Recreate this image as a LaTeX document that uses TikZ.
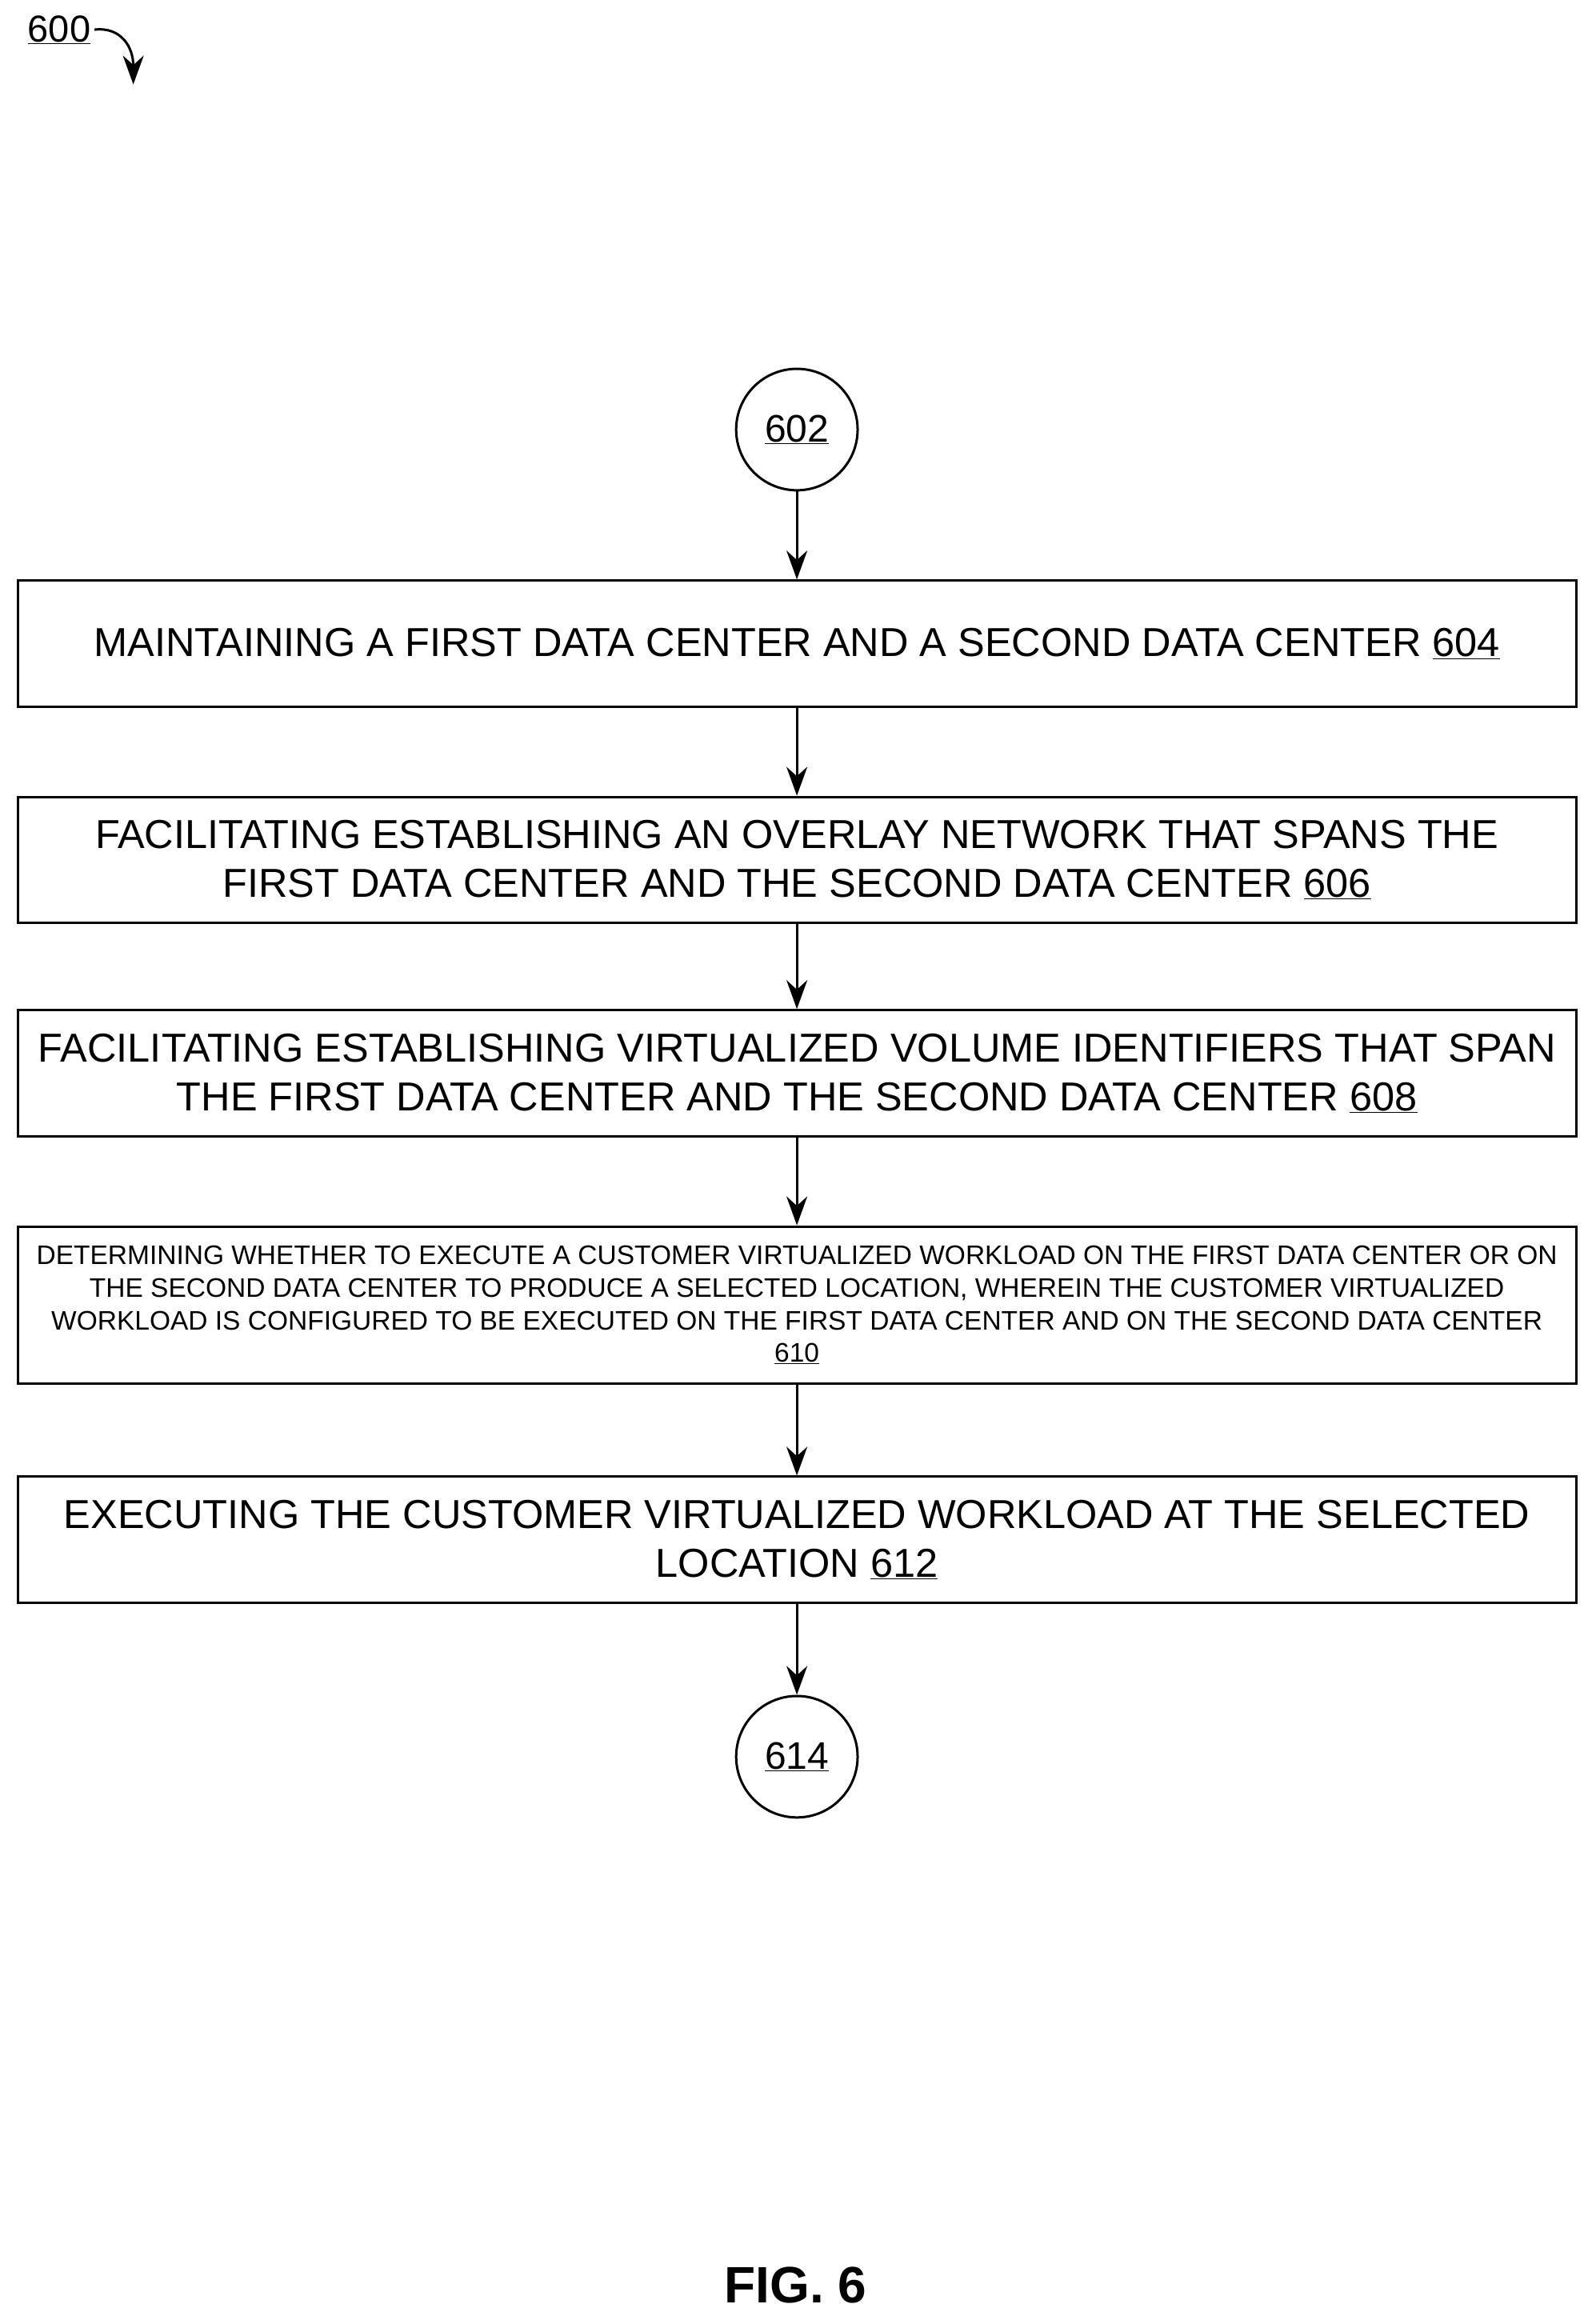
\documentclass[tikz,border=0pt]{standalone}
\usepackage{fontspec}
\setmainfont{Liberation Sans}
\usetikzlibrary{arrows.meta}
\begin{document}
\begin{tikzpicture}[x=1.8514pt,y=-1.8514pt,
  line width=3pt,
  box/.style={draw,minimum width=1052*1.8514pt,align=center,font=\fontsize{50.5}{61}\selectfont},
  smallbox/.style={draw,minimum width=1052*1.8514pt,align=center,font=\fontsize{33.5}{40.7}\selectfont},
  circ/.style={draw,circle,minimum size=82*1.8514pt,font=\fontsize{48}{56}\selectfont,inner sep=0pt},
  arr/.style={-{Stealth[length=36pt,width=26pt]}}]
\useasboundingbox (0,0) rectangle (1077,1569);
\node[font=\fontsize{47}{50}\selectfont] (l600) at (40,20) {\underline{600}};
\coordinate (a600) at (90,57);
\draw[arr] (l600.east) .. controls (82,18) and (90,32) .. (a600);
\node[circ] (c602) at (538,290) {\underline{602}};
\node[box,minimum height=85*1.8514pt] (b604) at (538,434.5) {MAINTAINING A FIRST DATA CENTER AND A SECOND DATA CENTER \underline{604}};
\node[box,minimum height=85*1.8514pt] (b606) at (538,580.5) {FACILITATING ESTABLISHING AN OVERLAY NETWORK THAT SPANS THE\\FIRST DATA CENTER AND THE SECOND DATA CENTER \underline{606}};
\node[box,minimum height=85*1.8514pt] (b608) at (538,724.5) {FACILITATING ESTABLISHING VIRTUALIZED VOLUME IDENTIFIERS THAT SPAN\\THE FIRST DATA CENTER AND THE SECOND DATA CENTER \underline{608}};
\node[smallbox,minimum height=106*1.8514pt] (b610) at (538,881) {DETERMINING WHETHER TO EXECUTE A CUSTOMER VIRTUALIZED WORKLOAD ON THE FIRST DATA CENTER OR ON\\THE SECOND DATA CENTER TO PRODUCE A SELECTED LOCATION, WHEREIN THE CUSTOMER VIRTUALIZED\\WORKLOAD IS CONFIGURED TO BE EXECUTED ON THE FIRST DATA CENTER AND ON THE SECOND DATA CENTER\\\underline{610}};
\node[box,minimum height=85*1.8514pt] (b612) at (538,1039.5) {EXECUTING THE CUSTOMER VIRTUALIZED WORKLOAD AT THE SELECTED\\LOCATION \underline{612}};
\node[circ] (c614) at (538,1186) {\underline{614}};
\draw[arr] (c602) -- (b604);
\draw[arr] (b604) -- (b606);
\draw[arr] (b606) -- (b608);
\draw[arr] (b608) -- (b610);
\draw[arr] (b610) -- (b612);
\draw[arr] (b612) -- (c614);
\node[font=\bfseries\fontsize{64}{70}\selectfont] (fig) at (537,1543) {FIG. 6};
\end{tikzpicture}
\end{document}
